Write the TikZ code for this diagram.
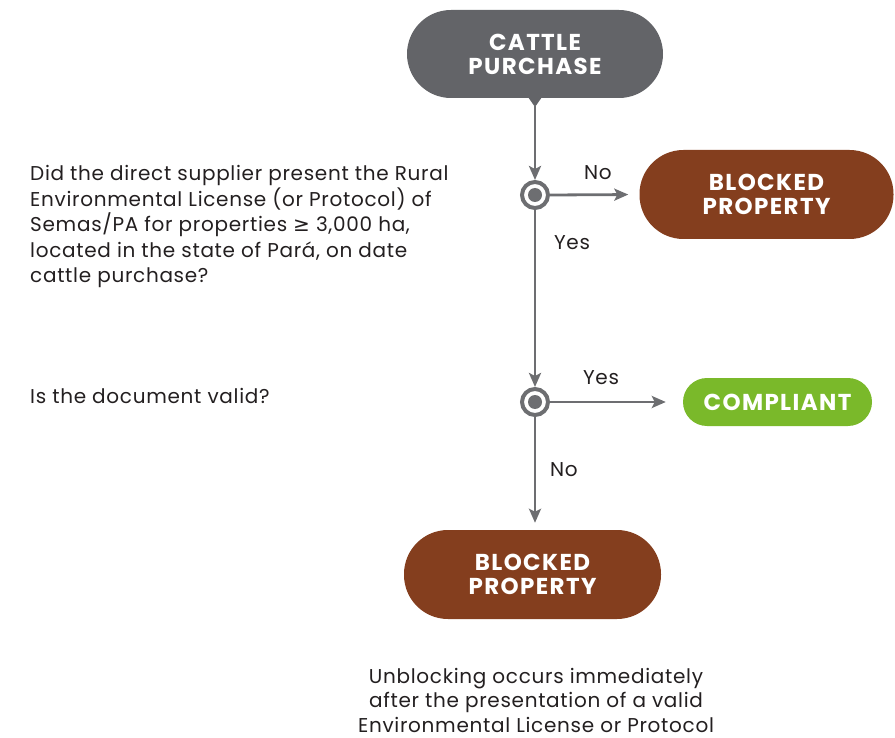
\documentclass[tikz,border=0pt]{standalone}
\usepackage{fontspec}
\setmainfont{Poppins}[LetterSpace=3.5]
\newfontfamily\headfont{Poppins}[LetterSpace=6]
\newfontfamily\symfont{DejaVu Sans}
\usepackage{tikz}
\usetikzlibrary{positioning, arrows.meta, calc}
\definecolor{lineGray}{RGB}{109, 110, 113}
\definecolor{startGray}{RGB}{99, 100, 104}
\definecolor{blockBrown}{RGB}{132, 62, 30}
\definecolor{okGreen}{RGB}{122, 185, 42}
\definecolor{textGray}{RGB}{35, 31, 32}

\tikzset{
    pill/.style={rectangle, rounded corners=#1, text=white, align=center,
        font=\headfont\fontsize{23}{24}\selectfont\bfseries, inner sep=0pt},
    decision/.style={circle, draw=lineGray, line width=4pt, fill=white,
        minimum size=26pt, inner sep=0pt,
        path picture={\fill[lineGray] (path picture bounding box.center) circle (7pt);}},
    flow/.style={draw=lineGray, line width=2.8pt,
        -{Stealth[length=14pt, width=12pt, inset=3pt]}},
    question/.style={align=left, anchor=base west, text=textGray, inner sep=0pt,
        font=\fontsize{20}{25.5}\selectfont},
    answer/.style={text=textGray, inner sep=0pt, font=\fontsize{20}{22}\selectfont}
}

\begin{document}
\begin{tikzpicture}[x=1pt, y=-1pt]
    \useasboundingbox (0,0) rectangle (895,738);

    % nodes
    \node[pill=44pt, fill=startGray, minimum width=256pt, minimum height=88pt]
        (start) at (535,54) {CATTLE\\PURCHASE};
    \fill[startGray] (528,97) -- (542,97) -- (535,107) -- cycle;
    \coordinate (startTip) at (535,105);

    \node[decision] (d1) at (535,195) {};
    \node[decision] (d2) at (535,402) {};

    \node[pill=44pt, fill=blockBrown, minimum width=254pt, minimum height=89pt]
        (blockA) at (766.5,194.5) {BLOCKED\\PROPERTY};
    \node[pill=24pt, fill=okGreen, minimum width=189pt, minimum height=48pt]
        (ok) at (777.5,402) {COMPLIANT};
    \node[pill=44pt, fill=blockBrown, minimum width=257pt, minimum height=89pt]
        (blockB) at (532.5,574.5) {BLOCKED\\PROPERTY};

    % arrows
    \draw[flow] (startTip) -- (d1.north);
    \draw[flow, shorten >=11pt] (d1.east) -- (blockA.west);
    \draw[flow] (d1.south) -- (d2.north);
    \draw[flow, shorten >=17pt] (d2.east) -- (ok.west);
    \draw[flow, shorten >=7pt] (d2.south) -- (d2.south |- blockB.north);

    % labels
    \node[answer] (noA) at (598,173) {No};
    \node[answer] (yesA) at (572,243) {Yes};
    \node[answer] (yesB) at (601,378) {Yes};
    \node[answer] (noB) at (564,470) {No};

    \node[question] (qA) at (30,283) {Did the direct supplier present the Rural\\
        Environmental License (or Protocol) of\\
        Semas/PA for properties {\symfont ≥} 3,000 ha,\\
        located in the state of Pará, on date\\
        cattle purchase?};
    \node[question] (qB) at (30,403) {Is the document valid?};

    \node[align=center, text=textGray, inner sep=0pt,
        font=\fontsize{20}{24.5}\selectfont] (note) at (536,700)
        {Unblocking occurs immediately\\after the presentation of a valid\\
        Environmental License or Protocol};
\end{tikzpicture}
\end{document}
